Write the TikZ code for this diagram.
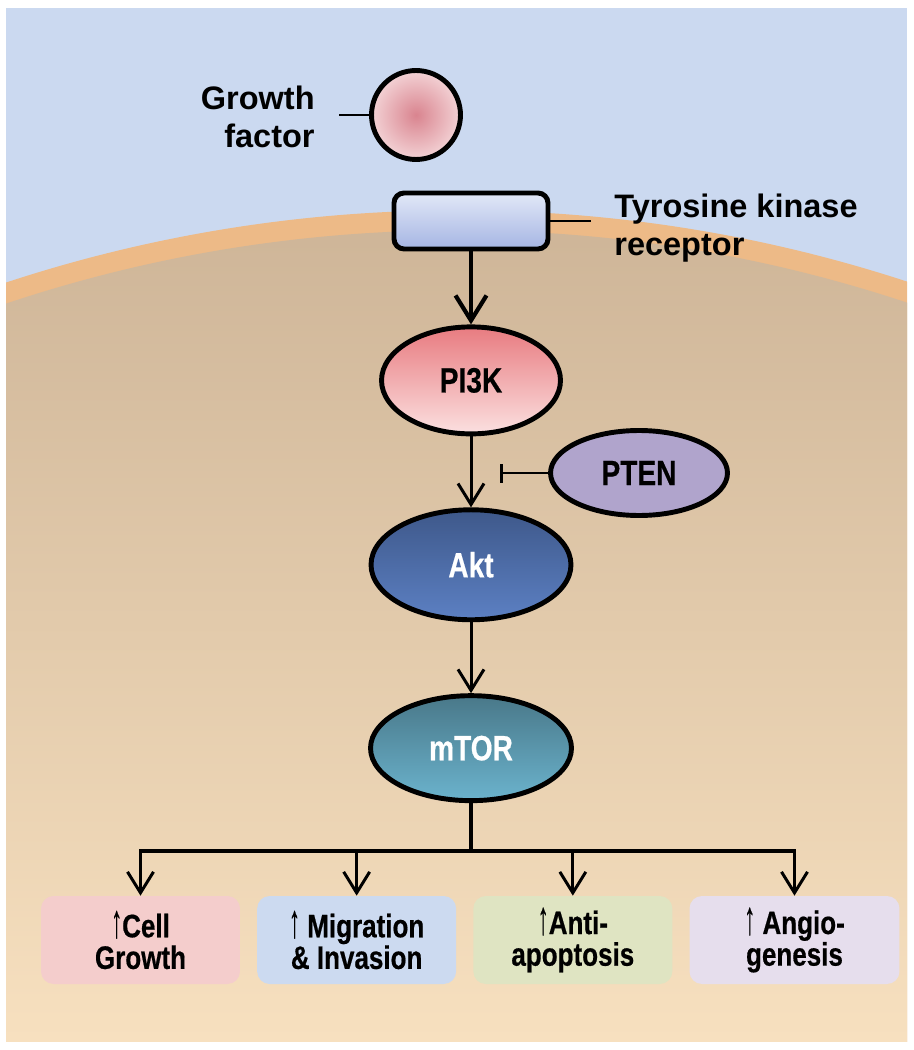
\documentclass[tikz,border=0pt]{standalone}
\usepackage{fontspec}
\setmainfont{Liberation Sans}
\newfontfamily\condfont{Liberation Sans}[FakeStretch=0.8, FakeBold=0.5]
\usepackage{xcolor}
\usepackage{graphicx}
\usetikzlibrary{shapes.geometric, shapes.misc, arrows.meta, positioning}
\definecolor{skyblue}{HTML}{CBD9F0}
\definecolor{membrane}{HTML}{EDBA87}
\definecolor{cytotop}{HTML}{CDB497}
\definecolor{cytobottom}{HTML}{F7E0BF}
\definecolor{gfinner}{HTML}{D9848F}
\definecolor{gfouter}{HTML}{F3D2D5}
\definecolor{rectop}{HTML}{E2E8F7}
\definecolor{recbottom}{HTML}{A5B5E3}
\definecolor{pitop}{HTML}{E87B80}
\definecolor{pibottom}{HTML}{FBE0E0}
\definecolor{ptenfill}{HTML}{B0A4CC}
\definecolor{akttop}{HTML}{3E588A}
\definecolor{aktbottom}{HTML}{5C80C3}
\definecolor{mtortop}{HTML}{497889}
\definecolor{mtorbottom}{HTML}{6BB3CD}
\definecolor{growthbox}{HTML}{F4CDCC}
\definecolor{migrationbox}{HTML}{CCDAF0}
\definecolor{apoptosisbox}{HTML}{DFE4C2}
\definecolor{angiobox}{HTML}{E6DEED}
\newcommand{\incr}{\scalebox{0.85}[1.45]{\textuparrow}}
\tikzstyle{tagtext} = [inner sep=0pt, font=\bfseries\fontsize{18.5}{22}\selectfont]
\tikzstyle{molecule} = [ellipse, draw=black, line width=2.8pt, text centered, font=\condfont\bfseries\fontsize{20}{20}\selectfont]
\tikzstyle{effect} = [rectangle, rounded corners=0.25cm, minimum width=3.98cm, minimum height=1.76cm, align=center, font=\condfont\bfseries\fontsize{18.5}{18}\selectfont]
\tikzstyle{arrow} = [line width=1.7pt, -{Straight Barb[length=0.42cm, width=0.52cm]}]
\tikzstyle{bigarrow} = [line width=2.4pt, -{Straight Barb[length=0.5cm, width=0.62cm]}]
\tikzstyle{inhibit} = [line width=1.7pt, -{Bar[width=0.38cm]}]

\begin{document}
\begin{tikzpicture}[x=0.02cm, y=-0.02cm, node distance=1.42cm]
    \useasboundingbox (0,0) rectangle (913,1050);

    \begin{scope}
        \clip (6,8) rectangle (907,1041);
        \fill[skyblue] (6,8) rectangle (907,1041);
        \fill[membrane] (458,1652) circle (28.84cm);
        \clip (458,1652) circle (28.44cm);
        \shade[top color=cytotop, bottom color=cytobottom] (6,200) rectangle (907,1041);
    \end{scope}

    \node (gf) [circle, draw=black, line width=2.8pt, inner color=gfinner, outer color=gfouter, minimum size=1.78cm] at (416,115) {};
    \node (gftext) [tagtext, align=right, anchor=east] at (315,117) {Growth\\factor};
    \coordinate (gftick) at ([xshift=-0.6cm]gf.west);
    \draw [line width=1.7pt] (gf.west)--(gftick);

    \node (rtk) [rectangle, rounded corners=0.2cm, draw=black, line width=2.8pt, top color=rectop, bottom color=recbottom, minimum width=3.08cm, minimum height=1.12cm] at (471,221) {};
    \node (rtktext) [tagtext, align=left, anchor=west] at (614,228) {Tyrosine kinase\\receptor};
    \coordinate (rtktick) at ([xshift=0.82cm]rtk.east);
    \draw [line width=1.7pt] (rtk.east)--(rtktick);

    \node (pi3k) [molecule, top color=pitop, bottom color=pibottom, minimum width=3.58cm, minimum height=2.14cm, below=1.46cm of rtk] {PI3K};
    \node (akt) [molecule, top color=akttop, bottom color=aktbottom, text=white, minimum width=4cm, minimum height=2.2cm, below=of pi3k] {Akt};
    \node (mtor) [molecule, top color=mtortop, bottom color=mtorbottom, text=white, minimum width=4.02cm, minimum height=2.1cm, below=of akt] {mTOR};
    \node (pten) [molecule, fill=ptenfill, minimum width=3.54cm, minimum height=1.7cm] at (639,473) {PTEN};

    \draw [bigarrow] (rtk)--(pi3k);
    \draw [arrow] (pi3k)--(akt);
    \draw [arrow] (akt)--(mtor);
    \coordinate (ptenstop) at ([xshift=-0.96cm]pten.west);
    \draw [inhibit] (pten.west)--(ptenstop);

    \node (growth) [effect, fill=growthbox] at (140.5,940) {\incr Cell\\Growth};
    \node (migration) [effect, fill=migrationbox, right=0.33cm of growth] {\incr{} Migration\\\& Invasion};
    \node (apoptosis) [effect, fill=apoptosisbox, right=0.33cm of migration] {\incr Anti-\\apoptosis};
    \node (angio) [effect, fill=angiobox, minimum width=4.2cm, right=0.33cm of apoptosis] {\incr{} Angio-\\genesis};

    \coordinate (split) at ([yshift=-0.96cm]mtor.south);
    \draw [line width=2pt] (mtor.south)--(split);
    \draw [line width=2pt, line cap=rect] (growth.north |- split)--(angio.north |- split);
    \foreach \b in {growth, migration, apoptosis, angio}
        \draw [arrow] (\b.north |- split)--(\b.north);

\end{tikzpicture}
\end{document}
